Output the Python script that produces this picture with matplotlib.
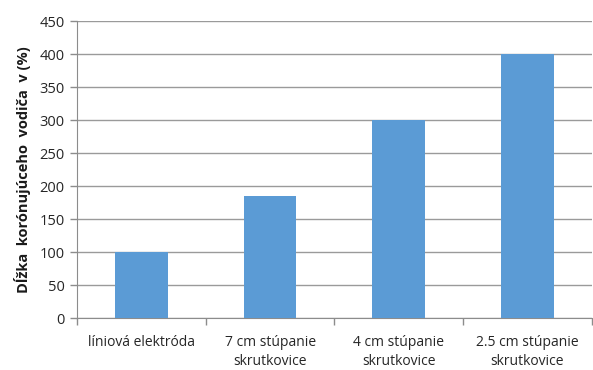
import matplotlib
matplotlib.use("Agg")
import matplotlib.pyplot as plt
import numpy as np

categories = ["líniová elektróda", "7 cm stúpanie\nskrutkovice",
              "4 cm stúpanie\nskrutkovice", "2.5 cm stúpanie\nskrutkovice"]
values = [100, 185, 300, 400]
y_ticks = [0, 50, 100, 150, 200, 250, 300, 350, 400, 450]
y_label = "Dĺžka  korónujúceho  vodiča  v (%)"

plt.rcParams["font.family"] = ["Open Sans", "DejaVu Sans"]

fig = plt.figure(figsize=(5.93, 3.70), dpi=100)
ax = fig.add_axes([0.130, 0.1405, 0.868, 0.8025])

x = np.arange(len(categories))
ax.bar(x, values, width=0.41, color="#5b9bd5", zorder=3)

ax.set_xlim(-0.5, len(categories) - 0.5)
ax.set_ylim(0, 450)
ax.set_yticks(y_ticks)
ax.set_yticklabels([str(v) for v in y_ticks], fontsize=10.5, color="#262626")
ax.yaxis.grid(True, color="#9a9a9a", linewidth=1.0, zorder=0)

ax.set_xticks(x)
ax.set_xticklabels(categories, fontsize=10, color="#262626", linespacing=1.35)
ax.tick_params(axis="x", length=0, pad=12)
ax.set_xticks(np.arange(-0.5, len(categories) + 0.5, 1), minor=True)
ax.tick_params(axis="x", which="minor", length=5, color="#8c8c8c", width=1)
ax.tick_params(axis="y", length=5, color="#8c8c8c", width=1, pad=4)

for side in ["top", "right"]:
    ax.spines[side].set_visible(False)
ax.spines["left"].set_color("#8c8c8c")
ax.spines["bottom"].set_color("#8c8c8c")

ax.set_ylabel(y_label, fontsize=10.5, fontweight="bold", color="#1a1a1a", labelpad=6)

fig.savefig("out.png", dpi=100)
